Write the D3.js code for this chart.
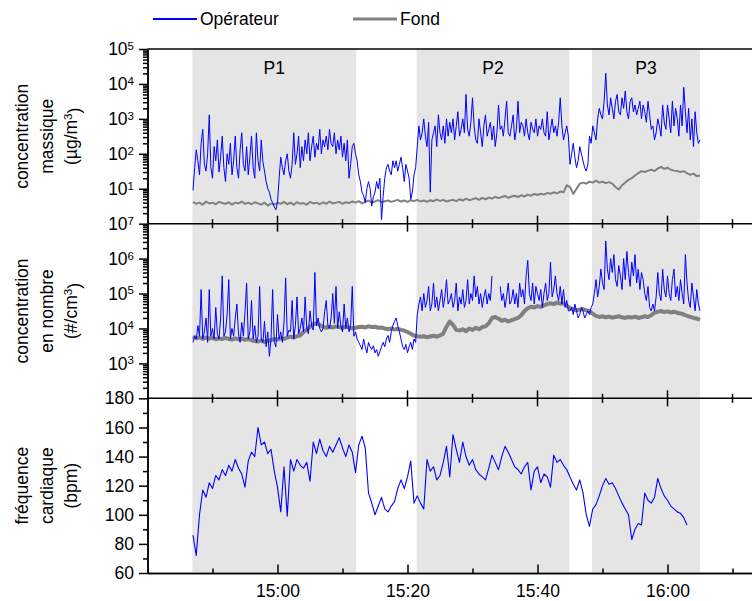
<!DOCTYPE html>
<html>
<head>
<meta charset="utf-8">
<script src="https://cdn.jsdelivr.net/npm/d3@7"></script>
<style>
  body { margin: 0; background: #fff; }
  text { font-family: Arial, "Liberation Sans", sans-serif; }
</style>
</head>
<body>
<div id="vis"></div>
<script>
// ---- data ----
const SERIES_START = "14:47:00";   // first sample of every series
const STEP_OP = 15;                 // operator particle data: one sample every 15 s
const STEP_BG = 30;                 // background + heart rate: one sample every 30 s

const periods = [
  {name: "P1", from: "14:46:54", to: "15:12:06"},
  {name: "P2", from: "15:21:24", to: "15:44:54"},
  {name: "P3", from: "15:48:24", to: "16:05:00"}
];

// mass concentration, µg/m3 (operator, 15 s)
const massOperateur = [
  9,40,130,63,25,200,500,50,32,100,1300,40,20,160,63,250,30,80,320,40,
  16,100,50,200,25,63,320,40,20,130,400,50,32,160,25,80,320,40,20,400,
  63,32,
  250,60,32,16,10,8,5,4,3,2.5,4,20,80,40,25,63,100,32,20,50,
  400,50,100,320,40,160,63,250,100,400,63,160,320,80,200,130,500,100,250,160,
  320,130,500,200,160,400,100,250,130,320,80,200,63,250,20,50,160,200,
  100,63,25,16,8,6.3,4,10,16,10,3.2,6,8,16,10,20,1.3,6,20,40,
  50,32,25,63,40,63,32,50,80,40,16,50,32,20,5,8,25,40,
  160,630,250,400,1000,320,160,800,8,250,400,630,160,1300,400,250,630,200,1000,320,
  800,400,1000,250,630,1600,320,500,1000,400,5000,500,320,800,4000,630,250,200,1000,400,
  160,630,1300,320,500,800,250,630,160,400,2500,500,630,320,1000,3200,400,320,630,1300,
  250,500,3200,400,800,630,320,1000,400,250,800,500,400,1000,320,630,500,1000,400,320,
  1600,250,500,1000,400,630,320,800,4000,630,250,400,630,320,
  50,100,200,80,40,63,160,100,63,40,32,50,320,200,
  630,400,250,1000,2000,1300,1000,3200,20000,2500,1300,4000,2000,1000,3200,5000,1600,1300,4000,2000,
  6300,1600,1000,3200,4000,1600,2500,1300,2000,3200,1000,2500,1600,800,3200,1300,500,630,250,400,
  1000,630,320,2500,800,500,2500,1000,400,3200,630,2000,1000,320,2500,630,8000,1600,400,2000,
  250,1000,160,1600,400,200,250
];
// mass concentration, µg/m3 (background, 30 s)
const massFond = [
  4.2,3.7,4.0,3.5,4.3,3.8,4.0,3.6,4.2,3.9,
  3.7,4.1,3.5,4.0,3.8,4.3,3.7,4.0,3.6,4.1,
  3.8,3.5,4.0,3.3,3.8,3.5,4.0,3.7,4.2,3.6,
  4.0,3.5,4.1,3.7,3.9,3.5,4.2,3.8,4.0,3.6,
  4.1,3.7,4.3,3.8,4.0,4.2,3.7,4.1,3.9,4.3,
  4.0,4.4,3.8,4.2,4.6,4.0,4.3,4.7,4.1,4.4,
  4.6,4.2,4.5,4.8,4.3,4.6,4.2,4.7,4.4,4.8,
  4.3,4.6,4.2,4.7,4.4,4.9,4.5,4.8,4.3,4.6,
  4.8,4.4,5.0,4.6,5.2,4.7,5.0,5.4,4.8,5.5,
  5.0,5.6,5.2,5.9,5.4,5.8,6.2,5.5,6.0,6.3,
  5.8,6.5,6.0,6.8,6.3,7.1,6.6,7.2,6.8,7.6,
  7.2,7.9,7.4,8.3,7.9,12.6,11.2,7.1,10,14,
  15,14,16,15,17,15,16,14.5,15.5,14,
  11.2,9.5,12.6,15,18,20,24,28,32,30,
  33,35,32,38,42,37,40,35,33,32,
  30,32,28,25,27,23,24
];

// number concentration, #/cm3 (operator, 15 s; null = no data)
const nombreOperateur = [
  4e3,6e3,5e3,1.2e4,6e3,1.3e5,5e3,8e3,2e4,4e3,1.3e5,6e3,1e4,5e3,4e4,7e3,5e3,2e4,3.2e5,6e3,
  8e3,2.5e4,2.5e5,5e3,1e4,6e3,2e4,5e4,7e3,4e3,1.5e4,6e3,3e4,2e5,5e3,8e3,6.3e4,5e3,1.2e4,4e3,
  6e3,1.6e5,5e3,4e3,1.6e4,3e3,8e3,1.6e3,5e3,1.3e5,4e3,3e3,2.5e4,5e3,8e3,4e3,1.5e4,2.8e5,6e3,9e3,
  8e3,6.3e4,5e3,1.2e4,8e4,7e3,1e4,2e4,8e3,8e4,1.1e4,7e3,3.2e4,1.2e4,9e3,4e5,1.2e4,2e4,1e4,8e3,
  1e4,3e4,6.3e4,1.2e4,1e4,2e4,1e5,1.4e4,1.6e5,1e4,3e4,1.2e4,8e3,5e4,1e4,2e4,8e3,1.2e4,1.6e5,6e3,
  8e3,5e3,4e3,3.2e3,2.5e3,5e3,3e3,2e3,4e3,3e3,2.5e3,3.2e3,2e3,2.5e3,1.6e3,2.2e3,3e3,4e3,3e3,5e3,
  6.3e3,4e3,8e3,1.2e4,1.6e4,2e4,1.2e4,8e3,5e3,3e3,2.5e3,3.5e3,2e3,3e3,4e3,2.5e3,5e3,4e3,
  2.5e4,5e4,8e4,3.2e4,1e5,4e4,6.3e4,1.6e5,3.2e4,5e4,2e5,4e4,8e4,3.2e4,6.3e4,1.3e5,4e4,8e4,2.5e5,5e4,
  6.3e4,1e5,4e4,6.3e4,2e5,3.2e4,8e4,5e4,1.3e5,4e4,6.3e4,2.5e5,5e4,1e5,6.3e4,3.2e5,8e4,1.6e5,5e4,1e5,
  4e4,8e4,1.3e5,5e4,1e5,6.3e4,3.2e5,null,null,null,null,1.6e5,6.3e4,1e5,4e4,8e4,2e5,5e4,6.3e4,1.3e5,
  5e4,1e5,4e4,2e5,8e4,1.3e5,5e4,3.2e5,8.9e5,1e5,6.3e4,2e5,5e4,1.6e5,1e5,6.3e4,1.3e5,4e4,1e5,2e5,
  6.3e4,1e5,7.9e5,8e4,1.3e5,3.2e5,1e5,6.3e4,1.6e5,5e4,1.3e5,4e4,6.3e4,3.2e4,
  3.2e4,4e4,2.5e4,5e4,3.2e4,2e4,2.5e4,4e4,3.2e4,2e4,2.5e4,3.2e4,2.5e4,4e4,
  5e4,1e5,2.5e5,8e4,1.6e5,5e5,2e5,1.3e5,3.2e6,5e5,2.5e5,1e6,4e5,1.3e6,2.5e5,1.6e5,6.3e5,3.2e5,1.3e5,1e6,
  2.5e5,1.6e6,4e5,1.6e5,7.9e5,3.2e5,1.3e6,2e5,5e5,1.3e5,4e5,2.5e5,1e5,6.3e4,1.6e5,4e4,3.2e4,5e4,3.2e4,8e4,
  4e5,1e5,6.3e4,5e5,1.3e5,8e4,3.2e5,1e5,6.3e4,2.5e5,5e5,8e4,1.6e5,6.3e4,2.5e5,1e5,5e4,1.3e6,2e5,6.3e4,
  4e4,2e5,8e4,3.2e4,1.3e5,5e4,3.2e4
];
// number concentration, #/cm3 (background, 30 s)
const nombreFond = [
  6.0e3,5.2e3,5.6e3,5.0e3,5.5e3,5.1e3,5.4e3,4.9e3,5.2e3,5.0e3,
  5.4e3,5.0e3,4.8e3,5.2e3,4.9e3,5.1e3,4.7e3,5.0e3,4.6e3,4.4e3,
  4.2e3,4.5e3,4.1e3,4.4e3,4.6e3,5.0e3,4.8e3,5.2e3,5.0e3,5.5e3,
  5.8e3,5.5e3,6.0e3,6.3e3,7.9e3,9.3e3,1.12e4,1.32e4,1.41e4,1.26e4,
  1.12e4,1.05e4,1.12e4,1.07e4,1.15e4,1.1e4,1.05e4,1.12e4,1.07e4,1.0e4,
  1.05e4,1.1e4,1.12e4,1.07e4,1.15e4,1.1e4,1.12e4,1.05e4,1.07e4,1.0e4,
  9.5e3,1.0e4,9.3e3,9.8e3,9.1e3,8.7e3,7.9e3,7.1e3,6.3e3,6.0e3,
  5.8e3,6.0e3,5.6e3,5.9e3,6.2e3,5.8e3,6.3e3,7.1e3,1.12e4,1.58e4,
  1.26e4,9.1e3,8.7e3,9.5e3,8.3e3,1.0e4,9.1e3,1.05e4,9.5e3,1.1e4,
  1.15e4,1.41e4,2.0e4,2.14e4,1.91e4,1.66e4,1.78e4,1.58e4,1.74e4,1.86e4,
  2.0e4,2.4e4,3.16e4,3.8e4,4.17e4,3.98e4,4.37e4,4.17e4,4.57e4,5.0e4,
  5.25e4,5.0e4,5.5e4,5.13e4,5.25e4,4.47e4,3.8e4,3.55e4,3.31e4,3.47e4,
  3.55e4,3.31e4,3.16e4,2.63e4,2.29e4,2.14e4,2.24e4,2.09e4,2.19e4,2.04e4,
  2.14e4,2.24e4,2.09e4,2.0e4,2.14e4,2.04e4,2.19e4,2.0e4,2.09e4,2.24e4,
  2.14e4,2.4e4,2.82e4,3.02e4,3.16e4,2.95e4,3.09e4,2.88e4,3.02e4,2.82e4,
  2.69e4,2.51e4,2.29e4,2.14e4,2.0e4,1.91e4,1.78e4
];

// heart rate, bpm (30 s)
const frequence = [
  86,72,100,117,112,122,118,127,124,131,127,134,130,138,132,128,119,137,143,140,
  160,148,150,142,145,130,119,102,133,99,138,130,138,134,132,136,123,150,142,152,
  144,140,147,143,148,153,146,140,148,143,129,148,154,146,115,108,100,106,112,104,
  102,106,109,118,124,118,126,137,108,113,108,104,138,130,133,124,127,136,147,126,
  155,145,136,150,140,134,138,131,128,126,124,132,141,136,131,140,147,143,138,133,
  131,128,133,136,117,130,133,122,128,126,119,141,136,138,134,131,126,121,117,124,
  115,100,92,104,107,113,120,125,121,122,118,113,108,104,100,83,90,94,93,115,
  110,108,112,125,118,113,110,106,104,102,101,98,93
];

const massTicks = [1e1, 1e2, 1e3, 1e4, 1e5];
const nombreTicks = [1e3, 1e4, 1e5, 1e6, 1e7];
const freqTicks = [60, 80, 100, 120, 140, 160, 180];
const freqMinor = [70, 90, 110, 130, 150, 170];
const timeTicks = ["15:00:00", "15:20:00", "15:40:00", "16:00:00"];
const timeMinor = ["14:50:00", "15:10:00", "15:30:00", "15:50:00", "16:10:00"];

// ---- layout ----
const FRAME_WIDTH = 752;
const FRAME_HEIGHT = 601;
const LEFT = 147.5;
const RIGHT = 758.5;
const TOP = 49;
const PANEL_H = 174.67;
const FONT = 17.5;
const BLUE = "#0000ff";
const GREY = "#808080";

const parseT = d3.timeParse("%H:%M:%S");
const t0 = parseT(SERIES_START);
const timeAt = (i, step) => new Date(+t0 + i * step * 1000);

const svg = d3.select("#vis").append("svg")
  .attr("width", FRAME_WIDTH)
  .attr("height", FRAME_HEIGHT);

const X = d3.scaleTime()
  .domain([parseT("14:40:00"), parseT("16:14:00")])
  .range([LEFT, RIGHT]);

const p1 = [TOP, TOP + PANEL_H];
const p2 = [TOP + PANEL_H, TOP + 2 * PANEL_H];
const p3 = [TOP + 2 * PANEL_H, TOP + 3 * PANEL_H];
const BOTTOM = p3[1];

const Y1 = d3.scaleLog().domain([1, 1e5]).range([p1[1], p1[0]]);
const Y2 = d3.scaleLog().domain([1e2, 1e7]).range([p2[1], p2[0]]);
const Y3 = d3.scaleLinear().domain([60, 180]).range([p3[1], p3[0]]);

// shaded periods
svg.selectAll("rect.period")
  .data(periods)
  .join("rect")
    .attr("class", "period")
    .attr("x", d => X(parseT(d.from)))
    .attr("width", d => X(parseT(d.to)) - X(parseT(d.from)))
    .attr("y", TOP)
    .attr("height", BOTTOM - TOP - 1)
    .attr("fill", "#e5e5e5");

svg.selectAll("text.period")
  .data(periods)
  .join("text")
    .attr("class", "period")
    .attr("x", d => (X(parseT(d.from)) + X(parseT(d.to))) / 2)
    .attr("y", TOP + 25)
    .attr("text-anchor", "middle")
    .attr("font-size", FONT)
    .text(d => d.name);

// lines
function drawLine(values, step, yScale, color, width) {
  const line = d3.line()
    .defined(d => d != null)
    .x((d, i) => X(timeAt(i, step)))
    .y(d => yScale(d));
  svg.append("path")
    .datum(values)
    .attr("d", line)
    .attr("fill", "none")
    .attr("stroke", color)
    .attr("stroke-width", width)
    .attr("stroke-linejoin", "round");
}
drawLine(massFond, STEP_BG, Y1, GREY, 2);
drawLine(massOperateur, STEP_OP, Y1, BLUE, 1);
drawLine(nombreFond, STEP_BG, Y2, GREY, 4);
drawLine(nombreOperateur, STEP_OP, Y2, BLUE, 1);
drawLine(frequence, STEP_BG, Y3, BLUE, 1.1);

// y axes
function logMinor(lo, hi) {
  const out = [];
  for (let e = lo; e < hi; e++) for (let j = 2; j <= 9; j++) out.push(j * Math.pow(10, e));
  return out;
}
function yAxis(scale, majors, minors, sup) {
  const g = svg.append("g").attr("transform", `translate(${LEFT},0)`);
  g.call(d3.axisLeft(scale).tickValues(minors).tickSize(4.5).tickSizeOuter(0).tickFormat(() => ""));
  const gm = svg.append("g").attr("transform", `translate(${LEFT},0)`);
  gm.call(d3.axisLeft(scale).tickValues(majors).tickSize(8.5).tickPadding(5).tickSizeOuter(0)
    .tickFormat(sup ? () => "" : d3.format("d")));
  gm.selectAll("text").attr("font-size", FONT).attr("font-family", "Arial, 'Liberation Sans', sans-serif").attr("fill", "#000");
  if (sup) {
    gm.selectAll(".tick text").each(function(d) {
      const t = d3.select(this);
      t.append("tspan").text("10");
      t.append("tspan").attr("dy", "-0.45em").attr("font-size", 11.5).text(Math.round(Math.log10(d)));
    });
  }
  [g, gm].forEach(s => s.selectAll("line, path").attr("stroke", "#000").attr("stroke-width", 1.5));
}
yAxis(Y1, massTicks, logMinor(0, 5), true);
yAxis(Y2, nombreTicks, logMinor(2, 7), true);
yAxis(Y3, freqTicks, freqMinor, false);

// x axis at bottom
const gx = svg.append("g").attr("transform", `translate(0,${BOTTOM})`);
gx.call(d3.axisBottom(X).tickValues(timeTicks.map(parseT)).tickSize(-8.5).tickPadding(12).tickSizeOuter(0)
  .tickFormat(d3.timeFormat("%H:%M")));
gx.selectAll("text").attr("font-size", FONT).attr("font-family", "Arial, 'Liberation Sans', sans-serif").attr("fill", "#000");
const gx2 = svg.append("g").attr("transform", `translate(0,${BOTTOM})`);
gx2.call(d3.axisBottom(X).tickValues(timeMinor.map(parseT)).tickSize(-4.5).tickSizeOuter(0).tickFormat(() => ""));
[gx, gx2].forEach(s => s.selectAll("line, path").attr("stroke", "#000").attr("stroke-width", 1.5));

// top border and panel separators with crossing ticks
svg.append("line").attr("x1", LEFT).attr("x2", RIGHT).attr("y1", TOP).attr("y2", TOP)
  .attr("stroke", "#000").attr("stroke-width", 1.5);
[p1[1], p2[1]].forEach(yb => {
  svg.append("line").attr("x1", LEFT).attr("x2", RIGHT).attr("y1", yb).attr("y2", yb)
    .attr("stroke", "#000").attr("stroke-width", 1.5);
  svg.append("g").selectAll("line")
    .data(timeTicks.map(parseT))
    .join("line")
      .attr("x1", d => X(d)).attr("x2", d => X(d))
      .attr("y1", yb - 8).attr("y2", yb + 8)
      .attr("stroke", "#000").attr("stroke-width", 1.5);
  svg.append("g").selectAll("line")
    .data(timeMinor.map(parseT))
    .join("line")
      .attr("x1", d => X(d)).attr("x2", d => X(d))
      .attr("y1", yb - 4.5).attr("y2", yb + 4.5)
      .attr("stroke", "#000").attr("stroke-width", 1.5);
});

// y axis titles
const titles = [
  {mid: (p1[0] + p1[1]) / 2, lines: [["concentration"], ["massique"], ["(µg/m", "3", ")"]]},
  {mid: (p2[0] + p2[1]) / 2, lines: [["concentration"], ["en nombre"], ["(#/cm", "3", ")"]]},
  {mid: (p3[0] + p3[1]) / 2, lines: [["fréquence"], ["cardiaque"], ["(bpm)"]]}
];
const lineX = [22, 47, 71];
titles.forEach(tt => {
  tt.lines.forEach((parts, k) => {
    const t = svg.append("text")
      .attr("transform", `translate(${lineX[k]},${tt.mid}) rotate(-90)`)
      .attr("text-anchor", "middle")
      .attr("dy", "0.35em")
      .attr("font-size", FONT);
    t.append("tspan").text(parts[0]);
    if (parts.length > 1) {
      t.append("tspan").attr("dy", "-0.45em").attr("font-size", 11.5).text(parts[1]);
      t.append("tspan").attr("dy", "0.45em").text(parts[2]);
    }
  });
});

// legend
const legend = [
  {label: "Opérateur", color: BLUE, width: 2, x: 153},
  {label: "Fond", color: GREY, width: 3, x: 353}
];
const lg = svg.append("g");
lg.selectAll("line")
  .data(legend)
  .join("line")
    .attr("x1", d => d.x).attr("x2", d => d.x + 44)
    .attr("y1", 19).attr("y2", 19)
    .attr("stroke", d => d.color)
    .attr("stroke-width", d => d.width);
lg.selectAll("text")
  .data(legend)
  .join("text")
    .attr("x", d => d.x + 47)
    .attr("y", 19)
    .attr("dy", "0.35em")
    .attr("font-size", FONT)
    .text(d => d.label);
</script>
</body>
</html>
